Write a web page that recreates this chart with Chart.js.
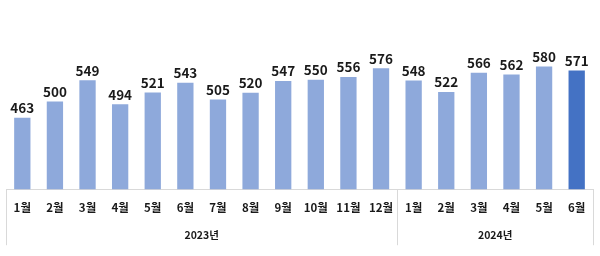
<!DOCTYPE html>
<html lang="ko">
<head>
    <meta charset="UTF-8">
    <title>월별 추이</title>
    <script src="https://cdn.jsdelivr.net/npm/chart.js"></script>
    <style>
        body { margin: 0; background: #fff; }
        #wrap { width: 600px; height: 256px; position: relative; }
    </style>
</head>
<body>
    <div id="wrap"><canvas id="chart"></canvas></div>
    <script>
        // 데이터
        const months = ['1월','2월','3월','4월','5월','6월','7월','8월','9월','10월','11월','12월',
                        '1월','2월','3월','4월','5월','6월'];
        const values = [463, 500, 549, 494, 521, 543, 505, 520, 547, 550, 556, 576,
                        548, 522, 566, 562, 580, 571];
        const years = ['2023년', '2024년'];
        const yearSpans = [[0, 11], [12, 17]];   // 각 연도의 첫/마지막 월 인덱스

        const barColors = values.map((v, i) => i === values.length - 1 ? '#4472C4' : '#8EA9DB');
        const FONT = "'Noto Sans CJK KR', 'Noto Sans', sans-serif";

        // 막대 위 값 + 연도 구분선/라벨
        const extras = {
            id: 'extras',
            afterDatasetsDraw(chart) {
                const ctx = chart.ctx;
                const meta = chart.getDatasetMeta(0);
                ctx.save();
                ctx.fillStyle = '#1a1a1a';
                ctx.font = 'bold 13.5px ' + FONT;
                ctx.textAlign = 'center';
                ctx.textBaseline = 'bottom';
                meta.data.forEach((bar, i) => {
                    ctx.fillText(values[i], bar.x, bar.y - 3);
                });
                ctx.restore();
            },
            afterDraw(chart) {
                const ctx = chart.ctx;
                const x = chart.scales.x;
                const top = chart.chartArea.bottom;
                const half = (x.getPixelForValue(1) - x.getPixelForValue(0)) / 2;
                ctx.save();
                ctx.strokeStyle = '#d9d9d9';
                ctx.lineWidth = 1;
                const edges = [x.getPixelForValue(0) - half];
                yearSpans.forEach(s => edges.push(x.getPixelForValue(s[1]) + half));
                edges.forEach(px => {
                    ctx.beginPath();
                    ctx.moveTo(Math.round(px) + 0.5, top);
                    ctx.lineTo(Math.round(px) + 0.5, top + 56);
                    ctx.stroke();
                });
                ctx.fillStyle = '#1a1a1a';
                ctx.font = 'bold 10.5px ' + FONT;
                ctx.textAlign = 'center';
                ctx.textBaseline = 'middle';
                yearSpans.forEach((s, i) => {
                    const cx = (x.getPixelForValue(s[0]) + x.getPixelForValue(s[1])) / 2;
                    ctx.fillText(years[i], cx, top + 46);
                });
                ctx.restore();
            }
        };

        new Chart(document.getElementById('chart'), {
            type: 'bar',
            data: {
                labels: months,
                datasets: [{ data: values, backgroundColor: barColors,
                             categoryPercentage: 1, barPercentage: 0.5 }]
            },
            options: {
                responsive: true,
                maintainAspectRatio: false,
                animation: false,
                layout: { padding: { top: 14, left: 6, right: 7, bottom: 29 } },
                plugins: { legend: { display: false }, tooltip: { enabled: false } },
                scales: {
                    x: {
                        grid: { display: false, drawTicks: false },
                        border: { display: true, color: '#d9d9d9' },
                        ticks: { color: '#1a1a1a', padding: 12, font: { family: FONT, size: 11.5, weight: 'bold' } }
                    },
                    y: { display: false, min: 300, max: 700 }
                }
            },
            plugins: [extras]
        });
    </script>
</body>
</html>
